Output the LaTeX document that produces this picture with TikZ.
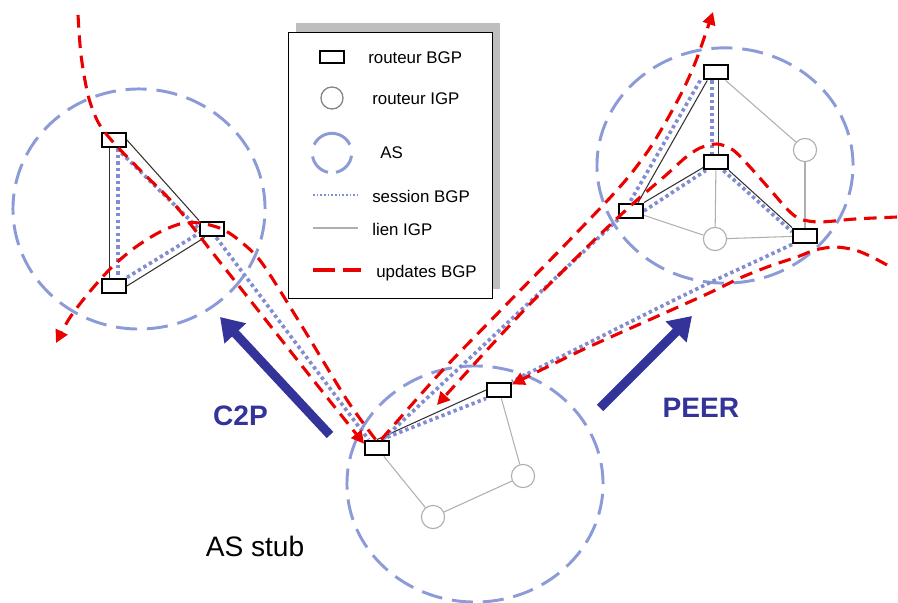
\documentclass[tikz,border=0pt]{standalone}
\usepackage{fontspec}
\setmainfont{Liberation Sans}
\usetikzlibrary{arrows.meta,shapes.geometric}
\definecolor{asblue}{RGB}{140,155,215}
\definecolor{sessblue}{RGB}{130,140,210}
\definecolor{updred}{RGB}{235,0,0}
\definecolor{igpgray}{RGB}{175,175,175}
\definecolor{darkline}{RGB}{50,50,50}
\definecolor{c2pblue}{RGB}{51,51,153}
\definecolor{shadowgray}{RGB}{190,190,190}
\definecolor{lgcircle}{RGB}{130,130,130}
\pgfdeclarelayer{asl}
\pgfdeclarelayer{linkl}
\pgfsetlayers{asl,linkl,main}
\begin{document}
\begin{tikzpicture}[x=0.025cm,y=-0.025cm,
  asring/.style={ellipse, draw=asblue, line width=2.1pt, dash pattern=on 15pt off 7pt, inner sep=0},
  asline/.style={draw=asblue, line width=2.1pt},
  bgp/.style={rectangle, draw=black, line width=1.4pt, fill=white, minimum width=17pt, minimum height=10.6pt, inner sep=0},
  igp/.style={circle, draw=igpgray, line width=0.8pt, fill=white, minimum size=16.5pt, inner sep=0},
  darklink/.style={draw=darkline, line width=0.75pt},
  igplink/.style={draw=igpgray, line width=0.75pt},
  session/.style={draw=sessblue, line width=2.6pt, dash pattern=on 2.4pt off 2.2pt},
  update/.style={draw=updred, line width=2.2pt, dash pattern=on 9pt off 5.5pt},
  updarrow/.style={update, -{Triangle[length=9pt,width=9pt]}},
  bigarrow/.style={draw=c2pblue, line width=6.4pt, -{Triangle[length=16pt,width=20pt]}},
  lbl/.style={anchor=base west, inner sep=0, font=\fontsize{12}{14}\selectfont},
  bigtxt/.style={anchor=base, inner sep=0, font=\fontsize{20}{24}\selectfont\bfseries, text=c2pblue}
]
\useasboundingbox (0,0) rectangle (898,603);

% AS rings
\begin{pgfonlayer}{asl}
\node[asring, minimum width=6.3cm, minimum height=6.0cm] (asL) at (139,209) {};
\node[asring, minimum width=6.4cm, minimum height=5.88cm] (asR) at (725,165.5) {};
\node[asring, minimum width=6.4cm, minimum height=5.9cm] (asS) at (475,484) {};
\end{pgfonlayer}

% legend
\node[fill=shadowgray, minimum width=5.1cm, minimum height=6.65cm, inner sep=0] (lgshadow) at (398,156) {};
\node[draw=black, line width=0.6pt, fill=white, minimum width=5.1cm, minimum height=6.65cm, inner sep=0] (lgbox) at (390,165) {};
\node[bgp, minimum width=16.4pt, minimum height=8.5pt] (lgR) at (332,57) {};
\node[lbl] (lgRt) at (368,64) {routeur BGP};
\node[circle, draw=lgcircle, line width=0.9pt, minimum size=15.7pt, inner sep=0] (lgI) at (332,98) {};
\node[lbl] (lgIt) at (372,105) {routeur IGP};
\coordinate (lgAS) at (332,153);
\draw[asline] ([shift={(25:14pt)}]lgAS) arc[start angle=25, end angle=155, radius=14pt];
\draw[asline] ([shift={(-8:14pt)}]lgAS) arc[start angle=-8, end angle=-78, radius=14pt];
\draw[asline] ([shift={(-102:14pt)}]lgAS) arc[start angle=-102, end angle=-170, radius=14pt];
\node[lbl] (lgASt) at (380,159) {AS};
\coordinate (lgS1) at (313,195); \coordinate (lgS2) at (358,195);
\draw[session, line width=1.3pt, dash pattern=on 1.3pt off 1.3pt] (lgS1) -- (lgS2);
\node[lbl] (lgSt) at (372,202) {session BGP};
\coordinate (lgL1) at (313,228); \coordinate (lgL2) at (358,228);
\draw[igplink, line width=0.9pt] (lgL1) -- (lgL2);
\node[lbl] (lgLt) at (372,235) {lien IGP};
\coordinate (lgU1) at (313,270); \coordinate (lgU2) at (361,270);
\draw[update, dash pattern=on 15.5pt off 6pt] (lgU1) -- (lgU2);
\node[lbl] (lgUt) at (376,277) {updates BGP};

% routers
\node[bgp] (LA) at (114,140) {};
\node[bgp] (LB) at (212,229) {};
\node[bgp] (LC) at (114,286) {};
\node[bgp] (RA) at (716,72) {};
\node[bgp] (RB) at (716,162) {};
\node[bgp] (RC) at (631,211) {};
\node[bgp] (RD) at (805,236) {};
\node[igp] (RI1) at (805,150) {};
\node[igp] (RI2) at (715,239) {};
\node[bgp] (SA) at (377,448) {};
\node[bgp] (SB) at (499,390) {};
\node[igp] (SI1) at (523,476) {};
\node[igp] (SI2) at (433,517) {};

% links and sessions
\begin{pgfonlayer}{linkl}
\draw[darklink] ([xshift=-3pt]LA.south) -- ([xshift=-3pt]LC.north);
\draw[darklink] (LA.east) -- (LB.north west);
\draw[darklink] (LC.east) -- ([xshift=4pt]LB.south west);
\draw[darklink] ([xshift=1.5pt]RA.south) -- ([xshift=1.5pt]RB.north);
\draw[darklink] ([xshift=3pt]RA.south west) -- ([xshift=5pt]RC.north);
\draw[darklink] (RC.north east) -- ([yshift=2pt]RB.south west);
\draw[darklink] (RB.south east) -- (RD.north west);
\draw[igplink] (RA) -- (RI1);
\draw[igplink] (RI1) -- (RD);
\draw[igplink] (RB) -- (RI2);
\draw[igplink] (RC) -- (RI2);
\draw[igplink] (RI2) -- (RD);
\draw[darklink] (SA.north) -- (SB.west);
\draw[igplink] (SB) -- (SI1);
\draw[igplink] (SI1) -- (SI2);
\draw[igplink] (SI2) -- (SA);

\draw[session] ([xshift=3pt]LA.south) -- ([xshift=3pt]LC.north);
\draw[session] ([xshift=2pt]LA.south) -- (LB.west);
\draw[session] (LC.north east) -- ([yshift=-3pt]LB.west);
\draw[session] ([xshift=-3pt]RA.south) -- ([xshift=-3pt]RB.north);
\draw[session] ([xshift=-2pt]RA.south west) -- ([xshift=-1pt]RC.north);
\draw[session] (RC.east) -- ([xshift=2pt]RB.south west);
\draw[session] ([xshift=-4pt]RB.south east) -- ([yshift=-3pt]RD.north west);
\draw[session] ([xshift=3pt]SA.north) -- (SB.south west);
\draw[session] ([xshift=3pt]LB.south) -- ([xshift=-6pt]SA.north);
\draw[session] (RC.south west) -- ([xshift=4pt]SA.north);
\draw[session] plot[smooth] coordinates {(RD.south west) (750,264) (707,284) (640,317) (SB.north east)};
\end{pgfonlayer}

% BGP updates
\coordinate (u1s) at (78,15);
\draw[updarrow] plot[smooth] coordinates {(u1s) (81,55) (88,95) (98,122) (113,142) (140,170) (175,205) (212,252) (265,319) (310,376) ([yshift=3pt]SA.west)};
\coordinate (u2e) at (56,343);
\draw[updarrow] plot[smooth] coordinates {([xshift=-1pt]SA.north) (347,400) (300,323) (262,263) (240,241) (222,229) (200,223) (180,224) (158,233) (133,249) (110,269) (87,295) (69,319) (u2e)};
\coordinate (u3e) at (713,12);
\draw[updarrow] plot[smooth] coordinates {([xshift=3pt]SA.north) (440,373) (500,311) (560,250) (607,201) (630,175) (650,148) (668,118) (684,88) (697,58) (u3e)};
\coordinate (u4s) at (897,217);
\coordinate (u4e) at (437,405);
\draw[updarrow] plot[smooth] coordinates {(u4s) (855,219) (820,222) (800,219) (788,210) (773,193) (750,167) (733,150) (717,144) (700,148) (685,158) (665,176) (637,200) (610,225) (580,254) (530,304) (487,350) (u4e)};
\coordinate (u5s) at (887,265);
\draw[updarrow] plot[smooth] coordinates {(u5s) (872,257) (855,250) (835,247) (815,250) (797,257) (770,266) (740,278) (707,294) (640,324) (580,351) ([yshift=-2pt]SB.north east)};

% relationship arrows
\coordinate (c2pS) at (330,435); \coordinate (c2pE) at (220,317);
\draw[bigarrow] (c2pS) -- (c2pE);
\coordinate (peerS) at (600,408); \coordinate (peerE) at (692,316);
\draw[bigarrow] (peerS) -- (peerE);
\node[bigtxt] (c2ptxt) at (240.5,425) {C2P};
\node[bigtxt] (peertxt) at (701,417) {PEER};
\node[anchor=base, inner sep=0, font=\fontsize{20}{24}\selectfont] (stubtxt) at (255,556) {AS stub};
\end{tikzpicture}
\end{document}
